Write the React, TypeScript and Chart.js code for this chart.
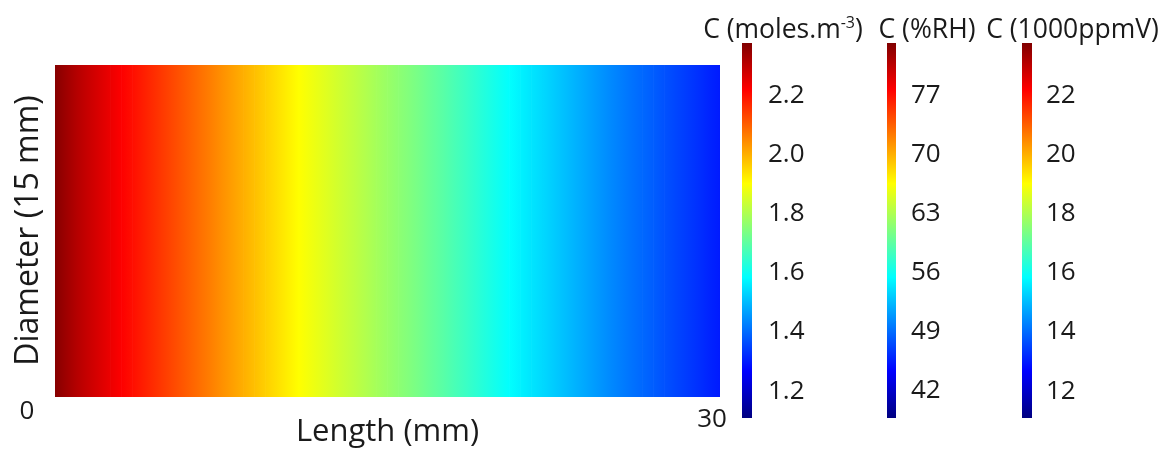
import React, { useEffect, useRef } from 'react';
import { Chart, registerables } from 'chart.js';

Chart.register(...registerables);

// Sample positions along the length (mm)
const LENGTH_MM = [
  0, 0.5, 1, 1.5, 2, 2.5, 3, 3.5, 4, 4.5, 5, 5.5, 6, 6.5, 7, 7.5, 8, 8.5, 9, 9.5,
  10, 10.5, 11, 11.5, 12, 12.5, 13, 13.5, 14, 14.5, 15, 15.5, 16, 16.5, 17, 17.5, 18, 18.5, 19, 19.5,
  20, 20.5, 21, 21.5, 22, 22.5, 23, 23.5, 24, 24.5, 25, 25.5, 26, 26.5, 27, 27.5, 28, 28.5, 29, 29.5, 30,
];

// Concentration (moles.m^-3) read at each position
const CONC = [
  2.370, 2.340, 2.312, 2.288, 2.265, 2.243, 2.222, 2.202, 2.182, 2.162,
  2.142, 2.122, 2.102, 2.082, 2.062, 2.042, 2.022, 2.002, 1.982, 1.962,
  1.942, 1.922, 1.902, 1.886, 1.870, 1.854, 1.838, 1.822, 1.806, 1.790,
  1.775, 1.760, 1.745, 1.729, 1.712, 1.695, 1.677, 1.659, 1.641, 1.622,
  1.604, 1.586, 1.569, 1.553, 1.537, 1.521, 1.505, 1.489, 1.473, 1.457,
  1.441, 1.426, 1.411, 1.397, 1.383, 1.369, 1.355, 1.341, 1.327, 1.313, 1.300,
];

const DIAMETER_MM = 15;
const X_TICKS = [0, 30];

const CB1_TICKS = [1.2, 1.4, 1.6, 1.8, 2.0, 2.2];
const CB2_TICKS = [42, 49, 56, 63, 70, 77];
const CB3_TICKS = [12, 14, 16, 18, 20, 22];
const CB1_RANGE = [1.109, 2.378];
const CB2_RANGE = [38.8, 83.22];
const CB3_RANGE = [11.09, 23.78];

const TEXT_COLOR = '#1a1a1a';
const FONT = '"Open Sans", sans-serif';

function clamp01(v: number) {
  return Math.max(0, Math.min(1, v));
}
function jetFrac(f: number) {
  const r = clamp01(1.5 - Math.abs(4 * f - 3));
  const g = clamp01(1.5 - Math.abs(4 * f - 2));
  const b = clamp01(1.5 - Math.abs(4 * f - 1));
  return `rgb(${Math.round(r * 255)},${Math.round(g * 255)},${Math.round(b * 255)})`;
}
function jet(v: number) {
  return jetFrac(clamp01((v - CB1_RANGE[0]) / (CB1_RANGE[1] - CB1_RANGE[0])));
}

function zeroPad(s: any) {
  s.paddingTop = 0;
  s.paddingBottom = 0;
  s.paddingLeft = 0;
  s.paddingRight = 0;
}

const overlayPlugin = {
  id: 'overlay',
  afterDraw(chart: any) {
    const { ctx, chartArea, scales } = chart;
    ctx.save();
    const bars = [
      { id: 'cb1', strip: 22, w: 10, titleCx: 63, title: [['C (moles.m', false], ['-3', true], [')', false]] },
      { id: 'cb2', strip: 22, w: 9, titleCx: 62, title: [['C (%RH)', false]] },
      { id: 'cb3', strip: 22, w: 10, titleCx: 72.5, title: [['C (1000ppmV)', false]] },
    ];
    for (const b of bars) {
      const s = scales[b.id];
      if (!s) continue;
      const top = s.getPixelForValue(s.max);
      const bottom = s.getPixelForValue(s.min);
      const x = s.left + b.strip;
      const g = ctx.createLinearGradient(0, bottom, 0, top);
      for (const t of [0, 0.125, 0.375, 0.625, 0.875, 1]) g.addColorStop(t, jetFrac(t));
      ctx.fillStyle = g;
      ctx.fillRect(x, top, b.w, bottom - top);

      const parts = b.title as [string, boolean][];
      const big = `26.5px ${FONT}`;
      const small = `16px ${FONT}`;
      let total = 0;
      const widths = parts.map(([t, sup]) => {
        ctx.font = sup ? small : big;
        const w = ctx.measureText(t).width;
        total += w;
        return w;
      });
      let cx = s.left + b.titleCx - total / 2;
      const ty = chartArea.top - 13;
      ctx.fillStyle = TEXT_COLOR;
      ctx.textAlign = 'left';
      ctx.textBaseline = 'middle';
      parts.forEach(([t, sup], i) => {
        ctx.font = sup ? small : big;
        ctx.fillText(t, cx, sup ? ty - 7 : ty);
        cx += widths[i];
      });
    }

    const xs = scales.x;
    ctx.font = `26px ${FONT}`;
    ctx.fillStyle = TEXT_COLOR;
    ctx.textAlign = 'center';
    ctx.textBaseline = 'middle';
    X_TICKS.forEach((v, i) => {
      const px = xs.getPixelForValue(v);
      if (i === 0) ctx.fillText(String(v), px - 28, chartArea.bottom - 6);
      else ctx.fillText(String(v), px - 8, chartArea.bottom + 2);
    });
    ctx.restore();
  },
};

function cbScale(range: number[], ticks: number[], width: number, padding: number, fmt: (v: number) => string) {
  return {
    type: 'linear',
    position: 'right',
    min: range[0],
    max: range[1],
    grid: { display: false, drawTicks: false },
    border: { display: false },
    ticks: {
      padding,
      autoSkip: false,
      color: TEXT_COLOR,
      font: { size: 26, family: FONT },
      callback: (v: number) => fmt(v),
    },
    afterBuildTicks: (s: any) => {
      s.ticks = ticks.map((v) => ({ value: v }));
    },
    afterFit: (s: any) => {
      s.width = width;
      zeroPad(s);
    },
  };
}

export default function App() {
  const ref = useRef<HTMLCanvasElement>(null);
  useEffect(() => {
    if (!ref.current) return;
    Chart.defaults.font.family = FONT;
    const barData = [];
    for (let i = 0; i < LENGTH_MM.length - 1; i++) {
      barData.push({ x: (LENGTH_MM[i] + LENGTH_MM[i + 1]) / 2, y: [0, DIAMETER_MM] });
    }
    const chart = new Chart(ref.current, {
      type: 'bar',
      data: {
        datasets: [
          {
            data: barData as any,
            borderWidth: 0,
            barPercentage: 1.06,
            categoryPercentage: 1,
            inflateAmount: 0,
            backgroundColor: (c: any) => {
              const i = c.dataIndex;
              const chartRef = c.chart;
              const xs = chartRef.scales && chartRef.scales.x;
              if (i === undefined || !xs || !chartRef.chartArea) return jet(CONC[0]);
              const x0 = xs.getPixelForValue(LENGTH_MM[i]);
              const x1 = xs.getPixelForValue(LENGTH_MM[i + 1]);
              const g = chartRef.ctx.createLinearGradient(x0, 0, x1, 0);
              g.addColorStop(0, jet(CONC[i]));
              g.addColorStop(1, jet(CONC[i + 1]));
              return g;
            },
          } as any,
        ],
      },
      options: {
        animation: false,
        responsive: false,
        layout: { padding: { top: 43, left: 0, right: 0, bottom: 0 } },
        plugins: { legend: { display: false }, tooltip: { enabled: false } },
        scales: {
          x: {
            type: 'linear',
            min: 0,
            max: 30,
            offset: false,
            grid: { display: false, drawTicks: false },
            border: { display: false },
            ticks: { display: false },
            title: {
              display: true,
              text: 'Length (mm)',
              color: TEXT_COLOR,
              font: { size: 31, lineHeight: 1, family: FONT },
              padding: { top: 0, bottom: 1 },
            },
            afterFit: (s: any) => {
              s.height = 31;
              zeroPad(s);
            },
          },
          y: {
            type: 'linear',
            position: 'left',
            min: -0.95,
            max: 16.0,
            grid: { display: false, drawTicks: false },
            border: { display: false },
            ticks: { display: false },
            title: {
              display: true,
              text: 'Diameter (15 mm)',
              color: TEXT_COLOR,
              font: { size: 32, lineHeight: 1, family: FONT },
              padding: { top: 13, bottom: 10 },
            },
            afterFit: (s: any) => {
              s.width = 55;
              zeroPad(s);
            },
          },
          cb1: cbScale(CB1_RANGE, CB1_TICKS, 145, 48, (v) => v.toFixed(1)),
          cb2: cbScale(CB2_RANGE, CB2_TICKS, 135, 46, (v) => String(v)),
          cb3: cbScale(CB3_RANGE, CB3_TICKS, 163, 46, (v) => String(v)),
        } as any,
      },
      plugins: [overlayPlugin],
    });
    return () => chart.destroy();
  }, []);
  return (
    <div style={{ position: 'fixed', left: 0, top: 0, width: 1163, height: 449, background: '#fff' }}>
      <canvas ref={ref} width={1163} height={449} style={{ display: 'block' }} />
    </div>
  );
}
